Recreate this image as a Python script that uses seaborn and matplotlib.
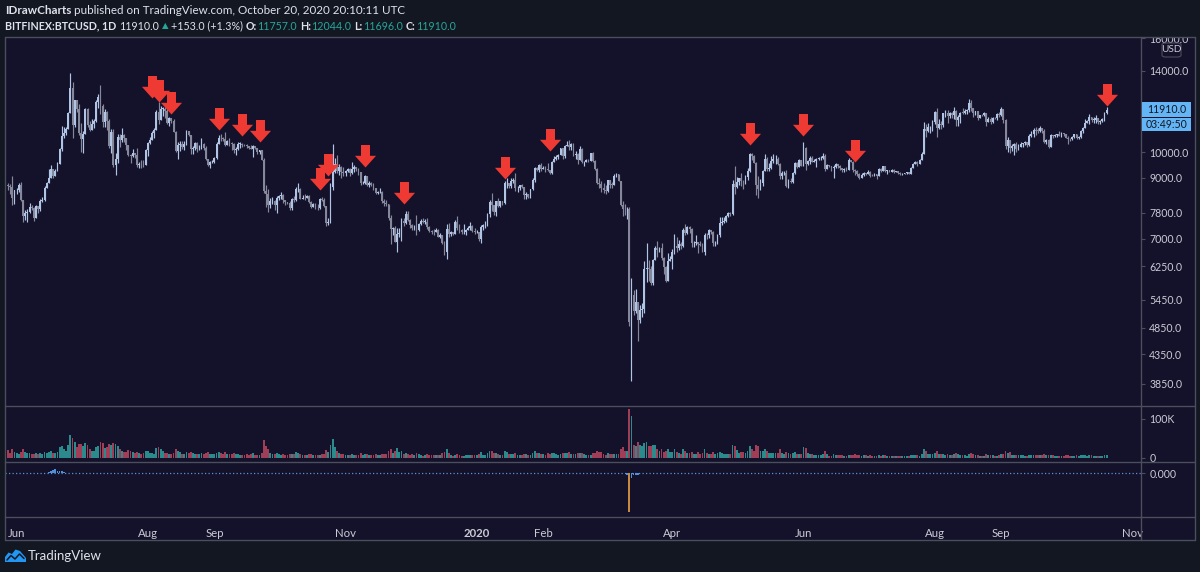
import numpy as np
import pandas as pd
import matplotlib
matplotlib.use("Agg")
import matplotlib.pyplot as plt
import seaborn as sns
from matplotlib.path import Path
from matplotlib.markers import MarkerStyle
from matplotlib.patches import Rectangle, Polygon, FancyBboxPatch
from matplotlib.lines import Line2D

# ---------------- data ----------------
START = "2019-05-28"
FIRST_OPEN = 8750

close = [
    8720, 8660, 8270, 8550,  # May 2019
    8560, 8740, 8210, 7700, 7790, 7810, 8000, 7950, 7630, 8010, 7920, 8170, 8220, 8650, 8810, 8980, 9320, 9080, 9270, 9530, 10140, 10700, 10850, 11010, 11780, 13020, 11180, 12400, 11960, 10820,
    10580, 10800, 11980, 11200, 10980, 11230, 11400, 12300, 12560, 12100, 11340, 11800, 11390, 10260, 10880, 9480, 9730, 10670, 10530, 10760, 10590, 10320, 9910, 9870, 9990, 9900, 9480, 9540, 9530, 9500, 10090,
    10400, 10520, 10820, 10980, 11800, 11450, 11970, 11980, 11860, 11280, 11530, 11380, 10890, 10050, 10300, 10360, 10230, 10350, 10900, 10760, 10130, 10180, 10400, 10140, 10140, 10370, 10190, 9720, 9490, 9600, 9630,
    9760, 10350, 10620, 10590, 10570, 10330, 10490, 10400, 10340, 10110, 10160, 10360, 10360, 10310, 10300, 10250, 10190, 10160, 10270, 10180, 10020, 10090, 9700, 8530, 8430, 8060, 8200, 8200, 8040, 8300,
    8340, 8390, 8230, 8160, 8120, 7950, 8240, 8230, 8590, 8590, 8260, 8300, 8280, 8350, 8160, 8000, 8070, 7960, 7950, 8240, 8220, 8020, 7470, 7510, 8660, 9240, 9550, 9260, 9430, 9210, 9200,
    9260, 9320, 9180, 9340, 9400, 9340, 9210, 8800, 8810, 9060, 8730, 8810, 8760, 8630, 8460, 8490, 8500, 8180, 8120, 8080, 7630, 7280, 7320, 6910, 7150, 7170, 7530, 7460, 7760, 7570,
    7420, 7320, 7320, 7250, 7450, 7550, 7510, 7520, 7340, 7220, 7200, 7190, 7250, 7070, 7110, 6880, 6620, 7280, 7150, 7190, 7130, 7520, 7320, 7250, 7200, 7200, 7250, 7320, 7390, 7220, 7190,
    7200, 6990, 7340, 7410, 7410, 7770, 8160, 8040, 7820, 8200, 8020, 8180, 8110, 8810, 8820, 8720, 8900, 8910, 8630, 8630, 8730, 8660, 8380, 8430, 8330, 8600, 8910, 9390, 9290, 9510, 9350,
    9390, 9340, 9290, 9180, 9610, 9730, 9800, 9900, 10170, 9850, 10270, 10330, 10210, 10370, 9900, 9930, 9700, 10160, 9600, 9610, 9690, 9670, 9970, 9650, 9340, 8820, 8780, 8630, 8560,
    8520, 8910, 8760, 8750, 9080, 9150, 8900, 8040, 7930, 7910, 7910, 4970, 5560, 5200, 5390, 5010, 5230, 5240, 6190, 6200, 6190, 5830, 6420, 6730, 6680, 6730, 6470, 6240, 5880, 6390, 6440,
    6640, 6790, 6730, 6860, 6790, 7270, 7180, 7340, 7300, 6870, 6880, 6920, 6860, 6840, 6640, 7120, 7100, 7260, 7190, 6880, 6880, 7120, 7480, 7510, 7540, 7700, 7790, 7770, 8790, 8660,
    8860, 8990, 8900, 8880, 9030, 9270, 9950, 9840, 9590, 8760, 8600, 8800, 9270, 9730, 9320, 9380, 9670, 9730, 9730, 9520, 9060, 9180, 9180, 8720, 8900, 8840, 9200, 9580, 9430, 9700, 9460,
    10200, 9520, 9670, 9790, 9620, 9670, 9750, 9770, 9780, 9870, 9320, 9480, 9470, 9390, 9430, 9530, 9460, 9390, 9290, 9330, 9290, 9680, 9630, 9310, 9260, 9160, 9010, 9120, 9190, 9140,
    9230, 9090, 9070, 9130, 9070, 9340, 9250, 9440, 9250, 9290, 9240, 9300, 9240, 9250, 9190, 9130, 9150, 9170, 9210, 9160, 9390, 9540, 9610, 9550, 9710, 9930, 11020, 10910, 11100, 11110, 11320,
    11800, 11070, 11230, 11190, 11750, 11770, 11600, 11750, 11680, 11880, 11410, 11580, 11780, 11770, 11870, 11910, 12250, 11990, 11740, 11860, 11530, 11680, 11650, 11750, 11320, 11460, 11320, 11540, 11510, 11710, 11680,
    11970, 11410, 10250, 10510, 10170, 10280, 10370, 10130, 10240, 10360, 10400, 10440, 10330, 10680, 10790, 10950, 10940, 10930, 11080, 10920, 10420, 10530, 10240, 10740, 10690, 10730, 10770, 10710, 10840, 10780,
    10620, 10570, 10550, 10670, 10790, 10600, 10670, 10920, 11060, 11300, 11380, 11560, 11430, 11430, 11500, 11320, 11360, 11480, 11757, 11910,
]

high = [
    8820, 8780, 9080, 8580,
    8640, 8800, 8840, 8220, 7900, 7910, 8130, 8060, 8000, 8060, 8030, 8240, 8310, 8690, 8860, 9340, 9480, 9350, 9320, 9620, 10190, 11160, 11100, 11090, 11790, 13880, 13380, 12430, 12180, 12200,
    11300, 10910, 12000, 12000, 11370, 11480, 11480, 12400, 12740, 13200, 12200, 11950, 11860, 11470, 11030, 11010, 9960, 10780, 10800, 11050, 10800, 10630, 10320, 9930, 10140, 9990, 10170, 9600, 9690, 9710, 10150,
    10450, 10660, 10920, 11070, 11900, 12300, 12130, 12050, 12040, 11940, 11580, 11530, 11460, 10930, 10440, 10480, 10460, 10490, 10950, 10940, 10760, 10250, 10420, 10420, 10330, 10620, 10380, 10280, 9710, 9670, 9700,
    9800, 10430, 10750, 10800, 10660, 10890, 10530, 10590, 10440, 10380, 10230, 10440, 10430, 10380, 10370, 10370, 10270, 10300, 10320, 10280, 10160, 10110, 10080, 9790, 8740, 8600, 8290, 8320, 8230, 8350,
    8400, 8480, 8410, 8200, 8160, 8170, 8290, 8340, 8680, 8800, 8630, 8400, 8430, 8400, 8390, 8170, 8120, 8120, 8080, 8290, 8330, 8300, 8030, 7620, 8800, 10370, 9790, 9890, 9550, 9450, 9420,
    9290, 9390, 9370, 9600, 9480, 9430, 9370, 9230, 8880, 9120, 9080, 8890, 8850, 8800, 8650, 8530, 8640, 8520, 8240, 8210, 8100, 7710, 7350, 7370, 7320, 7320, 7630, 7640, 7840, 7840,
    7590, 7430, 7420, 7740, 7480, 7600, 7620, 7590, 7630, 7380, 7270, 7300, 7310, 7280, 7170, 7120, 6930, 7430, 7460, 7230, 7190, 7570, 7690, 7440, 7280, 7450, 7300, 7390, 7520, 7420, 7330,
    7250, 7210, 7400, 7430, 7530, 7780, 8220, 8460, 8050, 8200, 8290, 8180, 8200, 8890, 8980, 8820, 9000, 8990, 9180, 8690, 8760, 8780, 8660, 8500, 8440, 8610, 8980, 9400, 9420, 9540, 9560,
    9460, 9450, 9570, 9310, 9670, 9850, 9880, 9950, 10180, 10160, 10300, 10480, 10520, 10390, 10390, 10050, 9970, 10250, 10180, 9640, 9750, 9720, 9980, 10010, 9680, 9360, 8990, 8880, 8800,
    8730, 8930, 8920, 8840, 9160, 9180, 9150, 8890, 8180, 8100, 7980, 7970, 5950, 5660, 5700, 5390, 5340, 5370, 6390, 6880, 6430, 6250, 6440, 6800, 6940, 6780, 6870, 6500, 6250, 6600, 6520,
    6720, 7130, 7050, 6960, 6900, 7310, 7450, 7390, 7370, 7330, 6930, 7110, 6920, 6930, 6880, 7170, 7160, 7300, 7270, 7230, 6930, 7140, 7660, 7650, 7660, 7720, 7820, 7820, 8930, 9470,
    9030, 9010, 9180, 8940, 9100, 9370, 9990, 9990, 9900, 9600, 9060, 8970, 9300, 9940, 9820, 9580, 9870, 9920, 9900, 9830, 9560, 9260, 9280, 9300, 8960, 9010, 9220, 9620, 9600, 9740, 9700,
    10420, 10220, 9690, 9870, 9850, 9720, 9790, 9800, 9870, 9970, 9940, 9550, 9490, 9470, 9500, 9580, 9540, 9480, 9380, 9390, 9400, 9770, 9700, 9660, 9340, 9310, 9200, 9190, 9220, 9200,
    9300, 9260, 9130, 9180, 9140, 9360, 9360, 9450, 9460, 9310, 9290, 9340, 9330, 9280, 9270, 9210, 9190, 9200, 9240, 9220, 9410, 9560, 9640, 9660, 9720, 10030, 11350, 11230, 11310, 11160, 11430,
    11860, 12030, 11460, 11400, 11780, 11900, 11920, 11800, 11800, 12050, 11930, 11660, 11800, 11990, 11980, 11960, 12450, 12390, 11990, 11880, 11880, 11690, 11710, 11800, 11780, 11550, 11570, 11550, 11580, 11740, 11790,
    12050, 11970, 11460, 10640, 10540, 10360, 10410, 10430, 10340, 10450, 10400, 10470, 10440, 10800, 10910, 11070, 11100, 11040, 11170, 11060, 10990, 10560, 10550, 10770, 10760, 10790, 10800, 10930, 10860, 10850,
    10780, 10680, 10590, 10720, 10800, 10800, 10700, 10950, 11110, 11480, 11440, 11720, 11560, 11570, 11650, 11540, 11420, 11500, 11820, 12044,
]

low = [
    8560, 8440, 8040, 8100,
    8420, 8510, 8180, 7520, 7570, 7520, 7800, 7880, 7550, 7630, 7790, 7870, 8150, 8190, 8620, 8920, 9040, 9000, 9080, 9260, 9560, 10050, 10600, 10750, 11020, 11750, 10600, 11120, 11790, 10750,
    10030, 9980, 10790, 11100, 10900, 10980, 11050, 11350, 12000, 11700, 11100, 11100, 10950, 10200, 9970, 9420, 9110, 9590, 10210, 10420, 10450, 10120, 9850, 9560, 9830, 9780, 9400, 9370, 9390, 9430, 9500,
    9860, 10340, 10520, 10590, 11010, 11230, 11500, 11620, 11510, 11230, 11150, 11280, 10860, 10000, 9720, 10050, 10150, 10110, 10330, 10700, 9950, 9950, 10080, 10010, 10080, 10150, 10100, 9700, 9460, 9380, 9570,
    9570, 9740, 10400, 10460, 10460, 10280, 10330, 10280, 10080, 9980, 9900, 10100, 10200, 10240, 10250, 10190, 10150, 10130, 9800, 10150, 9950, 9950, 9680, 8450, 8000, 7830, 7950, 8080, 7900, 7780,
    8220, 8250, 8120, 8060, 8080, 7900, 7880, 8160, 8180, 8480, 8250, 8270, 8230, 8270, 8130, 7950, 7980, 7920, 7880, 7930, 8170, 8000, 7370, 7400, 7470, 8560, 9180, 9200, 9120, 9010, 9060,
    9070, 9210, 9090, 9140, 9220, 9260, 9110, 8740, 8770, 8770, 8690, 8660, 8710, 8560, 8410, 8440, 8450, 8120, 8010, 8020, 7560, 6860, 7110, 6900, 6620, 7060, 6930, 7390, 7440, 7540,
    7320, 7250, 7260, 7120, 7220, 7420, 7460, 7430, 7280, 7190, 7150, 7120, 7230, 7050, 7030, 6850, 6550, 6450, 7060, 7090, 7110, 7140, 7270, 7170, 7150, 7150, 7120, 7280, 7270, 7200, 7140,
    7160, 6930, 6880, 7270, 7330, 7390, 7660, 7850, 7720, 7690, 8000, 7990, 8050, 8090, 8620, 8620, 8650, 8820, 8520, 8510, 8560, 8620, 8260, 8250, 8280, 8290, 8570, 8860, 9250, 9220, 9280,
    9330, 9230, 9250, 9140, 9160, 9650, 9700, 9750, 9880, 9750, 9770, 10250, 10110, 10120, 9850, 9740, 9540, 9680, 9560, 9470, 9610, 9620, 9650, 9600, 9300, 8790, 8650, 8500, 8450,
    8420, 8480, 8640, 8650, 8740, 9020, 8870, 8010, 7690, 7730, 7600, 4890, 3900, 5110, 5150, 4600, 4960, 5080, 5150, 5850, 5890, 5800, 5800, 6430, 6500, 6620, 6420, 6070, 5860, 5900, 6380,
    6180, 6580, 6620, 6690, 6710, 6780, 7110, 7140, 7180, 6780, 6780, 6830, 6600, 6800, 6620, 6560, 7010, 7040, 7150, 6800, 6800, 6850, 7060, 7400, 7470, 7510, 7660, 7690, 7740, 8440,
    8620, 8760, 8710, 8600, 8790, 8940, 9240, 9700, 9560, 8400, 8270, 8570, 8690, 9260, 9250, 9260, 9350, 9560, 9520, 9500, 8960, 8970, 9110, 8660, 8640, 8800, 8830, 9150, 9380, 9410, 9440,
    9450, 9290, 9480, 9530, 9600, 9610, 9420, 9680, 9680, 9720, 9260, 9320, 9400, 9250, 8990, 9380, 9380, 9300, 9220, 9220, 9270, 9290, 9600, 9240, 9110, 9070, 8970, 8980, 9080, 9120,
    9130, 9040, 9060, 9060, 8970, 9070, 9230, 9250, 9210, 9150, 9220, 9210, 9200, 9220, 9160, 9110, 9100, 9140, 9140, 9140, 9150, 9360, 9520, 9440, 9520, 9680, 9930, 10650, 10860, 10840, 10930,
    11230, 10650, 11000, 11030, 11110, 11550, 11310, 11520, 11540, 11470, 11170, 11170, 11310, 11700, 11710, 11720, 11830, 11850, 11590, 11680, 11450, 11520, 11620, 11600, 11160, 11320, 11230, 11300, 11470, 11450, 11560,
    11640, 11300, 10150, 10000, 9960, 10040, 9890, 10010, 10110, 10210, 10220, 10320, 10210, 10280, 10640, 10660, 10750, 10840, 10880, 10830, 10380, 10360, 10170, 10210, 10620, 10650, 10650, 10700, 10660, 10680,
    10590, 10370, 10500, 10520, 10630, 10550, 10580, 10630, 10810, 11050, 11280, 11240, 11320, 11290, 11280, 11240, 11250, 11340, 11400, 11696,
]

volume_k = [
    20, 14, 24, 16,
    12, 11, 16, 24, 16, 14, 12, 9, 11, 14, 11, 12, 11, 16, 14, 15, 19, 14, 12, 15, 27, 30, 22, 17, 32, 58, 52, 40, 28, 36,
    36, 30, 38, 33, 22, 18, 17, 29, 31, 42, 38, 26, 28, 36, 33, 38, 36, 30, 22, 17, 15, 16, 20, 18, 16, 13, 16, 13, 11, 13, 19,
    19, 14, 12, 11, 25, 28, 22, 18, 14, 12, 11, 10, 14, 22, 19, 16, 11, 10, 16, 14, 15, 12, 11, 11, 9, 14, 11, 14, 15, 10, 9,
    10, 14, 16, 12, 11, 15, 11, 10, 11, 12, 11, 10, 8, 7, 7, 10, 8, 10, 12, 8, 8, 8, 14, 45, 30, 22, 14, 11, 11, 14,
    11, 8, 10, 8, 7, 11, 11, 10, 15, 12, 11, 7, 7, 8, 10, 10, 7, 8, 7, 8, 10, 10, 20, 16, 34, 48, 28, 18, 14, 11, 10,
    8, 8, 7, 11, 8, 7, 8, 14, 8, 10, 10, 8, 7, 8, 11, 7, 8, 11, 11, 11, 19, 24, 14, 19, 26, 16, 19, 11, 14, 10,
    8, 10, 8, 12, 11, 8, 6, 7, 10, 8, 8, 8, 7, 7, 7, 12, 16, 24, 14, 8, 6, 8, 11, 8, 6, 6, 8, 7, 8, 8, 8,
    7, 10, 16, 8, 8, 14, 19, 19, 12, 14, 11, 8, 8, 19, 16, 11, 11, 10, 14, 8, 8, 8, 11, 10, 7, 8, 12, 18, 14, 12, 11,
    10, 8, 12, 11, 14, 12, 11, 8, 11, 14, 14, 14, 16, 11, 11, 10, 14, 14, 14, 11, 8, 7, 8, 12, 14, 19, 16, 16, 11,
    8, 12, 11, 10, 11, 11, 10, 22, 27, 19, 19, 125, 108, 32, 30, 40, 34, 30, 38, 42, 30, 30, 34, 32, 24, 19, 22, 16, 19, 24, 16,
    16, 22, 16, 14, 11, 24, 19, 14, 14, 16, 11, 11, 16, 11, 14, 22, 14, 11, 10, 16, 11, 12, 16, 12, 10, 10, 11, 11, 34, 30,
    20, 14, 16, 16, 14, 19, 30, 22, 19, 32, 30, 19, 19, 24, 19, 14, 12, 12, 14, 14, 22, 14, 11, 16, 14, 11, 14, 16, 11, 11, 11,
    28, 26, 14, 11, 11, 7, 7, 8, 8, 11, 19, 11, 6, 6, 11, 8, 7, 7, 7, 6, 4, 8, 7, 8, 10, 7, 8, 6, 7, 7,
    6, 7, 6, 4, 4, 7, 6, 7, 7, 6, 4, 4, 6, 6, 6, 6, 4, 4, 4, 4, 7, 8, 7, 7, 6, 10, 24, 19, 11, 10, 11,
    14, 19, 11, 10, 11, 8, 10, 7, 7, 10, 14, 11, 8, 7, 7, 6, 11, 12, 11, 7, 8, 6, 6, 6, 10, 7, 8, 7, 6, 6, 7,
    10, 11, 19, 14, 16, 8, 8, 8, 7, 8, 7, 6, 6, 8, 8, 8, 8, 7, 7, 7, 11, 7, 8, 8, 7, 6, 4, 6, 6, 6,
    7, 7, 4, 4, 6, 7, 6, 7, 7, 8, 6, 7, 7, 6, 6, 6, 4, 4, 7, 7,
]

# red arrow annotations: date and price of the arrow tip
arrow_dates = ["2019-08-03", "2019-08-06", "2019-08-12", "2019-09-03", "2019-09-14", "2019-09-22",
               "2019-10-20", "2019-10-24", "2019-11-10", "2019-11-28", "2020-01-14", "2020-02-04",
               "2020-05-07", "2020-06-01", "2020-06-25", "2020-10-20"]
arrow_prices = [12490, 12290, 11700, 10980, 10680, 10420, 8550, 9060, 9400, 8070, 8950, 10040,
                10330, 10680, 9600, 12090]

# oscillator pane
osc_dates = ["2019-06-16", "2019-06-17", "2019-06-18", "2019-06-19", "2019-06-20", "2019-06-21",
             "2019-06-22", "2019-06-23", "2020-03-11", "2020-03-12", "2020-03-13", "2020-03-14",
             "2020-03-15", "2020-03-16"]
osc_values = [0.03, 0.05, 0.07, 0.09, 0.06, 0.05, 0.04, 0.03, -0.05, -0.15, -0.14, -0.06, -0.04, -0.05]
spike_dates = ["2020-03-12"]
spike_values = [-1.0]

tick_dates = ["2019-06-01", "2019-08-01", "2019-09-01", "2019-11-01", "2020-01-01", "2020-02-01",
              "2020-04-01", "2020-06-01", "2020-08-01", "2020-09-01", "2020-11-01"]
tick_labels = ["Jun", "Aug", "Sep", "Nov", "2020", "Feb", "Apr", "Jun", "Aug", "Sep", "Nov"]
price_ticks = [3850, 4350, 4850, 5450, 6250, 7000, 7800, 9000, 10000, 14000, 16000]
vol_ticks = [0, 100]
vol_tick_labels = ["0", "100K"]

# header runs: (text, bold, colour key, space after)
header1 = [("IDrawCharts", True, "w", True),
           ("published on TradingView.com, October 20, 2020 20:10:11 UTC", False, "w", False)]
header2 = [("BITFINEX:BTCUSD, 1D", True, "w", True), ("11910.0", False, "w", True), ("▲", False, "g", True),
           ("+153.0 (+1.3%)", False, "w", True), ("O:", True, "w", False), ("11757.0", False, "g", True),
           ("H:", True, "w", False), ("12044.0", False, "g", True), ("L:", True, "w", False),
           ("11696.0", False, "g", True), ("C:", True, "w", False), ("11910.0", False, "g", False)]

n = len(close)
assert len(high) == n and len(low) == n and len(volume_k) == n, (len(close), len(high), len(low), len(volume_k))

# ---------------- styling ----------------
OUTER = "#131722"
PANE = "#14112a"
FRAME = "#4b4e5c"
TXT = "#c9ccd4"
UP = "#b0c5e6"
DOWN = "#85879a"
VUP = "#2b8a8c"
VDOWN = "#a13e57"
TEAL = "#26a69a"
ARROW = "#ee3a33"
WHITE = "#dfe2ea"

sns.set_theme(style="dark", rc={"axes.facecolor": PANE, "figure.facecolor": OUTER,
                                "axes.edgecolor": PANE, "axes.grid": False})
plt.rcParams["font.family"] = ["Lato", "DejaVu Sans"]

W, H = 1200, 572
fig = plt.figure(figsize=(12, 5.72), dpi=100, facecolor=OUTER)


def fx(px):
    return px / W


def fy(py):
    return 1 - py / H


L, R = 5, 1141
RIGHT_EDGE = 1195
TOP, MAIN_BOT, VOL_BOT, IND_BOT, AX_BOT = 37, 406, 462, 517, 540
XLIM = (-1.4, 527.0)

fig.add_artist(Rectangle((fx(L), fy(AX_BOT)), fx(RIGHT_EDGE) - fx(L), fy(TOP) - fy(AX_BOT),
                         transform=fig.transFigure, facecolor=PANE, edgecolor="none", zorder=-1))

ax = fig.add_axes([fx(L), fy(MAIN_BOT), fx(R) - fx(L), fy(TOP) - fy(MAIN_BOT)])
axv = fig.add_axes([fx(L), fy(VOL_BOT), fx(R) - fx(L), fy(MAIN_BOT) - fy(VOL_BOT)])
axi = fig.add_axes([fx(L), fy(IND_BOT), fx(R) - fx(L), fy(VOL_BOT) - fy(IND_BOT)])

dates = pd.date_range(START, periods=n, freq="D")
idx = np.arange(n)
c = np.array(close, float)
o = np.concatenate([[FIRST_OPEN], c[:-1]])
h = np.maximum(np.array(high, float), np.maximum(o, c))
lo = np.minimum(np.array(low, float), np.minimum(o, c))
up = c >= o
ccol = np.where(up, UP, DOWN)

# ---- candles ----
ax.set_yscale("log")
ax.vlines(idx, lo, h, colors=ccol, linewidth=0.85, zorder=2)
body_lo = np.minimum(o, c)
body_h = np.maximum(np.abs(c - o), body_lo * 0.002)
ax.bar(idx, body_h, bottom=body_lo, width=0.85, color=ccol, linewidth=0, zorder=3)

# arrows (block down arrows with the tip at the given price)
verts = [(0, 0), (0.47, 0.52), (0.2, 0.52), (0.2, 1.0), (-0.2, 1.0), (-0.2, 0.52), (-0.47, 0.52), (0, 0)]
arrow_marker = MarkerStyle(Path(verts, [Path.MOVETO] + [Path.LINETO] * 6 + [Path.CLOSEPOLY]))
a_idx = [dates.get_loc(pd.Timestamp(d)) for d in arrow_dates]
ax.scatter(a_idx, arrow_prices, marker=arrow_marker, s=1050, color=ARROW, linewidths=0, zorder=5)

ax.set_xlim(*XLIM)
ax.set_ylim(3516, 16090)
ax.yaxis.tick_right()
ax.set_yticks(price_ticks)
ax.set_yticklabels([f"{v:.1f}" for v in price_ticks])
ax.yaxis.set_minor_locator(matplotlib.ticker.NullLocator())
ax.tick_params(axis="y", colors=FRAME, labelcolor=TXT, length=3, width=0.8, pad=3, labelsize=7.6, direction="out")
ax.set_xticks([])
for s in ax.spines.values():
    s.set_visible(False)

# ---- volume (seaborn) ----
vdf = pd.DataFrame({"idx": idx, "vol": volume_k, "dir": np.where(up, "up", "down")})
sns.barplot(data=vdf, x="idx", y="vol", hue="dir", palette={"up": VUP, "down": VDOWN},
            native_scale=True, dodge=False, width=0.85, errorbar=None, legend=False,
            saturation=1, linewidth=0, ax=axv)
axv.set_xlim(*XLIM)
axv.set_ylim(-10.3, 133)
axv.yaxis.tick_right()
axv.set_yticks(vol_ticks)
axv.set_yticklabels(vol_tick_labels)
axv.tick_params(axis="y", colors=FRAME, labelcolor=TXT, length=3, width=0.8, pad=3, labelsize=7.6)
axv.set_xticks([])
axv.set_xlabel("")
axv.set_ylabel("")
for s in axv.spines.values():
    s.set_visible(False)

# ---- oscillator ----
axi.axhline(0, color="#5b92cf", linewidth=0.9, linestyle=(0, (1, 1.8)), zorder=1)
o_idx = [dates.get_loc(pd.Timestamp(d)) for d in osc_dates]
axi.bar(o_idx, osc_values, width=0.8, color="#4f8fdc", linewidth=0, zorder=2)
s_idx = [dates.get_loc(pd.Timestamp(d)) for d in spike_dates]
axi.bar(s_idx, spike_values, width=0.8, color="#c98a3e", linewidth=0, zorder=3)
axi.set_xlim(*XLIM)
axi.set_ylim(-1.128, 0.282)
axi.yaxis.tick_right()
axi.set_yticks([0])
axi.set_yticklabels(["0.000"])
axi.tick_params(axis="y", colors=FRAME, labelcolor=TXT, length=3, width=0.8, pad=3, labelsize=7.6)
t_idx = [(pd.Timestamp(d) - dates[0]).days for d in tick_dates]
axi.set_xticks(t_idx)
axi.set_xticklabels(tick_labels)
axi.tick_params(axis="x", colors=FRAME, labelcolor=TXT, length=3, width=0.8, pad=5, labelsize=8.2)
for lab in axi.get_xticklabels():
    if lab.get_text() == "2020":
        lab.set_fontweight("bold")
for s in axi.spines.values():
    s.set_visible(False)

# ---- cover above chart (clips the top price label) and frame lines ----
fig.add_artist(Rectangle((0, fy(TOP)), 1, 1 - fy(TOP), transform=fig.transFigure,
                         facecolor=OUTER, edgecolor="none", zorder=2))


def hline(py, x0=L, x1=RIGHT_EDGE):
    fig.add_artist(Line2D([fx(x0), fx(x1)], [fy(py), fy(py)], transform=fig.transFigure,
                          color=FRAME, linewidth=1.0, zorder=4))


def vline(px, y0=TOP, y1=AX_BOT):
    fig.add_artist(Line2D([fx(px), fx(px)], [fy(y0), fy(y1)], transform=fig.transFigure,
                          color=FRAME, linewidth=1.0, zorder=4))


for py in (TOP, MAIN_BOT, VOL_BOT, IND_BOT, AX_BOT):
    hline(py)
for px in (L, R, RIGHT_EDGE):
    vline(px)

# USD box
fig.add_artist(FancyBboxPatch((fx(1162), fy(57)), fx(19), fy(43) - fy(57), boxstyle="round,pad=0,rounding_size=0.003",
                              transform=fig.transFigure, facecolor=PANE, edgecolor=FRAME, linewidth=0.8, zorder=5))
fig.text(fx(1171.5), fy(50), "USD", color=TXT, fontsize=7.2, ha="center", va="center", zorder=6)

# last price / countdown labels
LBL = "#64b5f6"
last_price = close[-1]
fig.add_artist(Rectangle((fx(1142), fy(117)), fx(49), fy(102) - fy(117), transform=fig.transFigure,
                         facecolor=LBL, edgecolor="none", zorder=5))
fig.add_artist(Rectangle((fx(1142), fy(131)), fx(49), fy(118) - fy(131), transform=fig.transFigure,
                         facecolor=LBL, edgecolor="none", zorder=5))
fig.text(fx(1166.5), fy(109.5), f"{last_price:.1f}", color="#131722", fontsize=7.6, ha="center", va="center", zorder=6)
fig.text(fx(1166.5), fy(124), "03:49:50", color="#131722", fontsize=7.6, ha="center", va="center", zorder=6)

# ---- header (runs laid out one after another) ----
renderer = fig.canvas.get_renderer()
HCOL = {"w": WHITE, "g": TEAL}
HFAM = ["Lato", "DejaVu Sans"]


def text_width(s, size, bold=False):
    t = fig.text(0, 0, s, fontsize=size, family=HFAM, fontweight="bold" if bold else "normal")
    wdt = t.get_window_extent(renderer).width
    t.remove()
    return wdt


def run(pieces, x, y, size):
    space = text_width("a a", size) - text_width("aa", size)
    for txt, bold, col, gap in pieces:
        sz = size * 0.8 if txt == "▲" else size
        t = fig.text(fx(x), fy(y), txt, color=HCOL[col], fontsize=sz, fontweight="bold" if bold else "normal",
                     family=HFAM, va="center", ha="left", zorder=6)
        x += t.get_window_extent(renderer).width + (space if gap else 0.5)
    return x


run(header1, 5, 11, 8.35)
run(header2, 5, 26, 7.65)

# ---- footer logo ----
cloud = [(5, 562), (5, 557), (8.5, 552.5), (12, 554), (15.5, 549.5), (20, 551), (23.5, 555), (26, 558), (26, 562)]
fig.add_artist(Polygon([(fx(a), fy(b)) for a, b in cloud], closed=True, transform=fig.transFigure,
                       facecolor="#2196f3", edgecolor="none", zorder=5))
zig = [(7, 560), (11, 555.5), (15, 559), (19.5, 554), (24, 558.5)]
fig.add_artist(Line2D([fx(a) for a, b in zig], [fy(b) for a, b in zig], transform=fig.transFigure,
                      color="#131722", linewidth=1.1, zorder=6))
fig.text(fx(28), fy(556), "TradingView", color=WHITE, fontsize=9.5, ha="left", va="center", zorder=6)

fig.savefig("out.png", dpi=100, facecolor=OUTER)
